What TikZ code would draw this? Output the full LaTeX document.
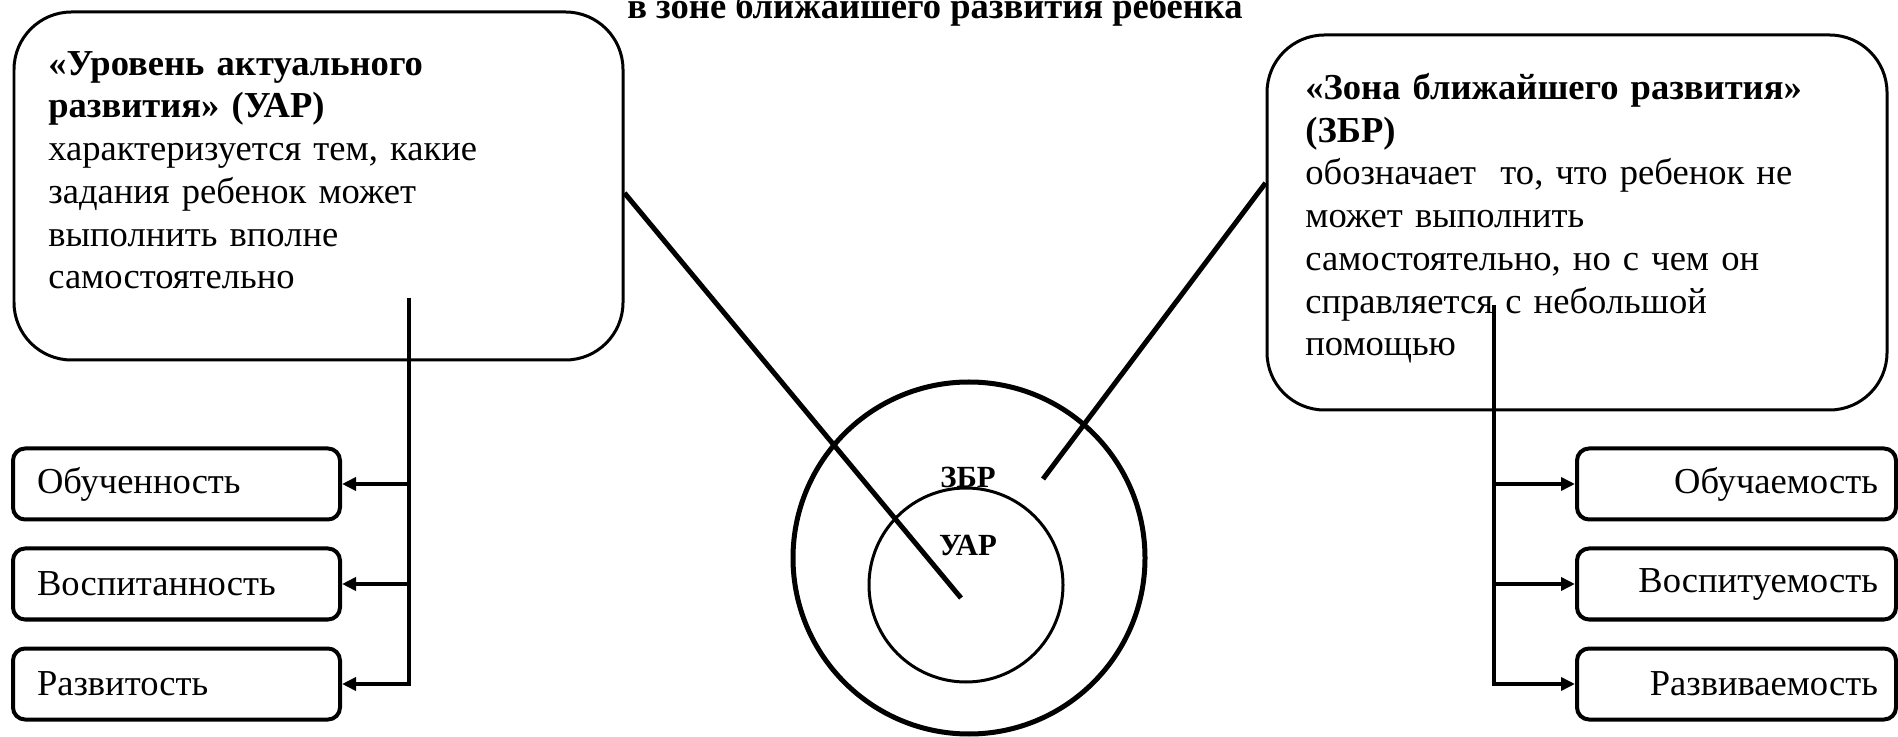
\documentclass[tikz,border=0pt]{standalone}
\usepackage{fontspec}
\setmainfont{Liberation Serif}
\usetikzlibrary{arrows.meta}

\begin{document}
\begin{tikzpicture}[
        bigbox/.style={draw, line width=0.06cm, rounded corners=1.15cm},
        boxtext/.style={anchor=north west, inner sep=0pt, text width=11.5cm, align=left, font=\fontsize{20.8}{24.3}\selectfont},
        leftbox/.style={draw, line width=0.08cm, rounded corners=0.24cm, minimum height=1.42cm, inner xsep=0.48cm, text width=5.58cm, align=left, font=\fontsize{20.8}{24.3}\selectfont},
        rightbox/.style={leftbox, text width=5.66cm, inner xsep=0.36cm, align=right},
        ray/.style={line width=0.1cm},
        branch/.style={line width=0.07cm, -{Triangle[length=0.28cm, width=0.26cm]}},
        zone/.style={font=\bfseries\fontsize{17.5}{20}\selectfont}
    ]
        \useasboundingbox (0,0) rectangle (37.96,14.72);

        \node[anchor=base, font=\bfseries\fontsize{20.8}{24.3}\selectfont] (ttl) at (18.7,14.34) {в зоне ближайшего развития ребенка};

        \node[bigbox, minimum width=12.18cm, minimum height=6.96cm] (uar) at (6.37,11) {};
        \node[boxtext] (uartext) at (0.96,13.7) {{\bfseries «Уровень актуального}\\{\bfseries развития» (УАР)}\\характеризуется тем, какие\\задания ребенок может\\выполнить вполне\\самостоятельно};

        \node[bigbox, minimum width=12.4cm, minimum height=7.5cm] (zbr) at (31.54,10.27) {};
        \node[boxtext] (zbrtext) at (26.1,13.26) {{\bfseries «Зона ближайшего развития»}\\{\bfseries (ЗБР)}\\обозначает~ то, что ребенок не\\может выполнить\\самостоятельно, но с чем он\\справляется с небольшой\\помощью};

        \node[leftbox] (obuch) at (3.53,5.04) {Обученность};
        \node[leftbox] (vosp) at (3.53,3.04) {Воспитанность};
        \node[leftbox] (razv) at (3.53,1.04) {Развитость};

        \node[rightbox] (obuchm) at (34.73,5.04) {Обучаемость};
        \node[rightbox] (vospm) at (34.73,3.04) {Воспитуемость};
        \node[rightbox] (razvm) at (34.73,1.04) {Развиваемость};

        \draw[line width=0.1cm] (19.38,3.56) circle (3.52);
        \draw[line width=0.06cm] (19.32,3.02) circle (1.94);
        \node[zone] (zbrlabel) at (19.36,5.18) {ЗБР};
        \node[zone] (uarlabel) at (19.36,3.80) {УАР};

        \coordinate (uarend) at (19.22,2.76);
        \coordinate (zbrend) at (20.86,5.14);
        \draw[ray] ([yshift=-0.14cm]uar.east) -- (uarend);
        \draw[ray] ([yshift=0.79cm]zbr.west) -- (zbrend);

        \coordinate (ltop) at (8.18,8.76);
        \draw[branch] (ltop) |- (razv.east);
        \draw[branch] (ltop |- obuch.east) -- (obuch.east);
        \draw[branch] (ltop |- vosp.east) -- (vosp.east);

        \coordinate (rtop) at (29.88,8.62);
        \draw[branch] (rtop) |- (razvm.west);
        \draw[branch] (rtop |- obuchm.west) -- (obuchm.west);
        \draw[branch] (rtop |- vospm.west) -- (vospm.west);

\end{tikzpicture}
\end{document}
